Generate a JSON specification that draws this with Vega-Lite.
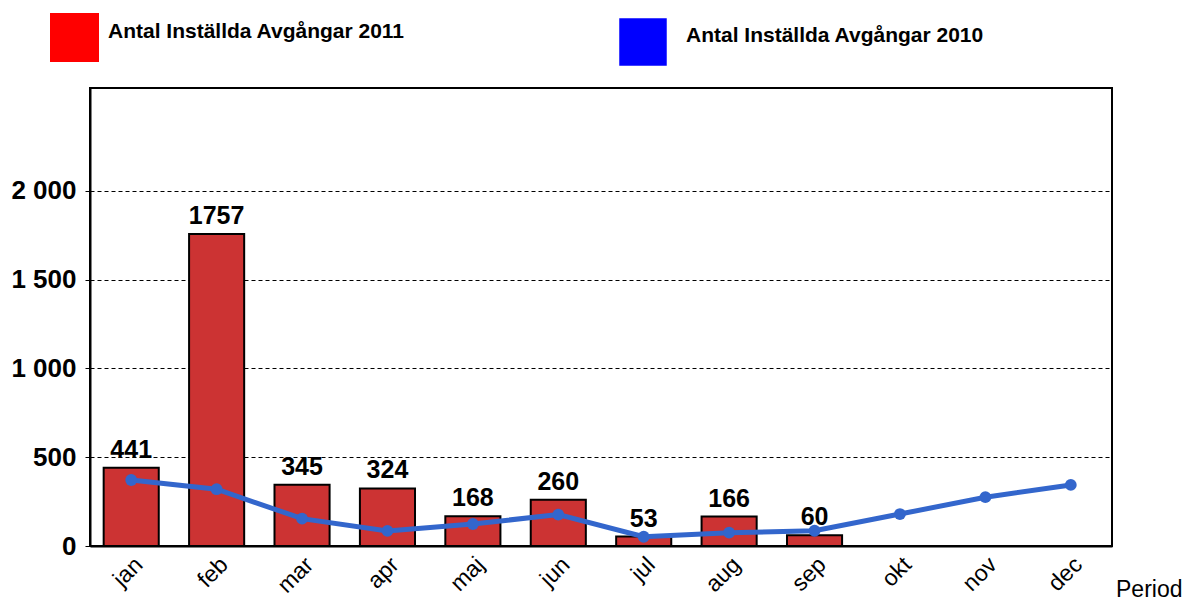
{
  "$schema": "https://vega.github.io/schema/vega-lite/v6.json",
  "width": 1022,
  "height": 458,
  "autosize": {"type": "none"},
  "padding": {"left": 90, "top": 88, "right": 75, "bottom": 55},
  "background": "white",
  "config": {
    "font": "Liberation Sans",
    "view": {"stroke": "black", "strokeWidth": 2}
  },
  "data": {
    "values": [
      {"month": "jan", "serie": "Antal Inställda Avgångar 2011", "value": 441},
      {"month": "feb", "serie": "Antal Inställda Avgångar 2011", "value": 1757},
      {"month": "mar", "serie": "Antal Inställda Avgångar 2011", "value": 345},
      {"month": "apr", "serie": "Antal Inställda Avgångar 2011", "value": 324},
      {"month": "maj", "serie": "Antal Inställda Avgångar 2011", "value": 168},
      {"month": "jun", "serie": "Antal Inställda Avgångar 2011", "value": 260},
      {"month": "jul", "serie": "Antal Inställda Avgångar 2011", "value": 53},
      {"month": "aug", "serie": "Antal Inställda Avgångar 2011", "value": 166},
      {"month": "sep", "serie": "Antal Inställda Avgångar 2011", "value": 60},
      {"month": "jan", "serie": "Antal Inställda Avgångar 2010", "value": 372},
      {"month": "feb", "serie": "Antal Inställda Avgångar 2010", "value": 320},
      {"month": "mar", "serie": "Antal Inställda Avgångar 2010", "value": 154},
      {"month": "apr", "serie": "Antal Inställda Avgångar 2010", "value": 85},
      {"month": "maj", "serie": "Antal Inställda Avgångar 2010", "value": 124},
      {"month": "jun", "serie": "Antal Inställda Avgångar 2010", "value": 177},
      {"month": "jul", "serie": "Antal Inställda Avgångar 2010", "value": 52},
      {"month": "aug", "serie": "Antal Inställda Avgångar 2010", "value": 75},
      {"month": "sep", "serie": "Antal Inställda Avgångar 2010", "value": 86},
      {"month": "okt", "serie": "Antal Inställda Avgångar 2010", "value": 180},
      {"month": "nov", "serie": "Antal Inställda Avgångar 2010", "value": 275},
      {"month": "dec", "serie": "Antal Inställda Avgångar 2010", "value": 344}
    ]
  },
  "encoding": {
    "x": {
      "field": "month",
      "type": "nominal",
      "sort": ["jan", "feb", "mar", "apr", "maj", "jun", "jul", "aug", "sep", "okt", "nov", "dec"],
      "scale": {
        "domain": ["jan", "feb", "mar", "apr", "maj", "jun", "jul", "aug", "sep", "okt", "nov", "dec"],
        "paddingInner": 0.355,
        "paddingOuter": 0.16
      },
      "axis": {
        "title": "Period",
        "titleFont": "Liberation Sans",
        "titleFontSize": 23,
        "titleFontWeight": "normal",
        "titleColor": "black",
        "titleX": 1092,
        "titleY": 50,
        "titleAlign": "right",
        "titleBaseline": "alphabetic",
        "titleAnchor": null,
        "labelAngle": -45,
        "labelFontSize": 23,
        "labelColor": "black",
        "labelPadding": 7,
        "ticks": false,
        "domain": true,
        "domainColor": "black",
        "domainWidth": 2
      }
    },
    "y": {
      "field": "value",
      "type": "quantitative",
      "scale": {"domain": [0, 2580], "nice": false, "zero": true},
      "axis": {
        "title": null,
        "values": [0, 500, 1000, 1500, 2000],
        "labelExpr": "replace(format(datum.value, ','), ',', ' ')",
        "labelFontSize": 26,
        "labelFontWeight": "bold",
        "labelColor": "black",
        "labelPadding": 9,
        "tickColor": "black",
        "tickSize": 5,
        "domain": true,
        "domainColor": "black",
        "domainWidth": 2,
        "grid": true,
        "gridColor": "black",
        "gridDash": [4, 3],
        "gridWidth": 1,
        "gridOpacity": 1
      }
    }
  },
  "layer": [
    {
      "transform": [{"filter": "datum.serie === 'Antal Inställda Avgångar 2011'"}],
      "mark": {"type": "bar", "fill": "#cc3333", "stroke": "black", "strokeWidth": 2}
    },
    {
      "transform": [{"filter": "datum.serie === 'Antal Inställda Avgångar 2011'"}],
      "mark": {"type": "text", "dy": -10, "baseline": "alphabetic", "fontSize": 25, "fontWeight": "bold", "color": "black"},
      "encoding": {"text": {"field": "value", "type": "quantitative"}}
    },
    {
      "transform": [{"filter": "datum.serie === 'Antal Inställda Avgångar 2010'"}],
      "mark": {
        "type": "line",
        "color": "#3366cc",
        "strokeWidth": 5,
        "point": {"filled": true, "size": 140, "color": "#3366cc"}
      }
    },
    {
      "transform": [{"filter": "datum.serie === 'Antal Inställda Avgångar 2011'"}],
      "mark": {"type": "point", "opacity": 0, "shape": "square", "filled": true},
      "encoding": {
        "color": {
          "field": "serie",
          "type": "nominal",
          "scale": {"domain": ["Antal Inställda Avgångar 2011"], "range": ["#ff0000"]},
          "legend": {
            "orient": "none",
            "legendX": -40,
            "legendY": -75,
            "title": null,
            "padding": 0,
            "symbolType": "square",
            "symbolSize": 2401,
            "symbolOpacity": 1,
            "symbolStrokeWidth": 0,
            "labelFont": "Liberation Sans",
            "labelFontSize": 21,
            "labelFontWeight": "bold",
            "labelColor": "black",
            "labelBaseline": "alphabetic",
            "labelOffset": 9,
            "labelLimit": 600
          }
        }
      }
    },
    {
      "transform": [{"filter": "datum.serie === 'Antal Inställda Avgångar 2010'"}],
      "mark": {"type": "point", "opacity": 0, "shape": "square", "filled": true},
      "encoding": {
        "fill": {
          "field": "serie",
          "type": "nominal",
          "scale": {"domain": ["Antal Inställda Avgångar 2010"], "range": ["#0000ff"]},
          "legend": {
            "orient": "none",
            "legendX": 529,
            "legendY": -70,
            "title": null,
            "padding": 0,
            "symbolType": "square",
            "symbolSize": 2256,
            "symbolOpacity": 1,
            "symbolStrokeWidth": 0,
            "labelFont": "Liberation Sans",
            "labelFontSize": 21,
            "labelFontWeight": "bold",
            "labelColor": "black",
            "labelBaseline": "alphabetic",
            "labelOffset": 19,
            "labelLimit": 600
          }
        }
      }
    }
  ]
}
